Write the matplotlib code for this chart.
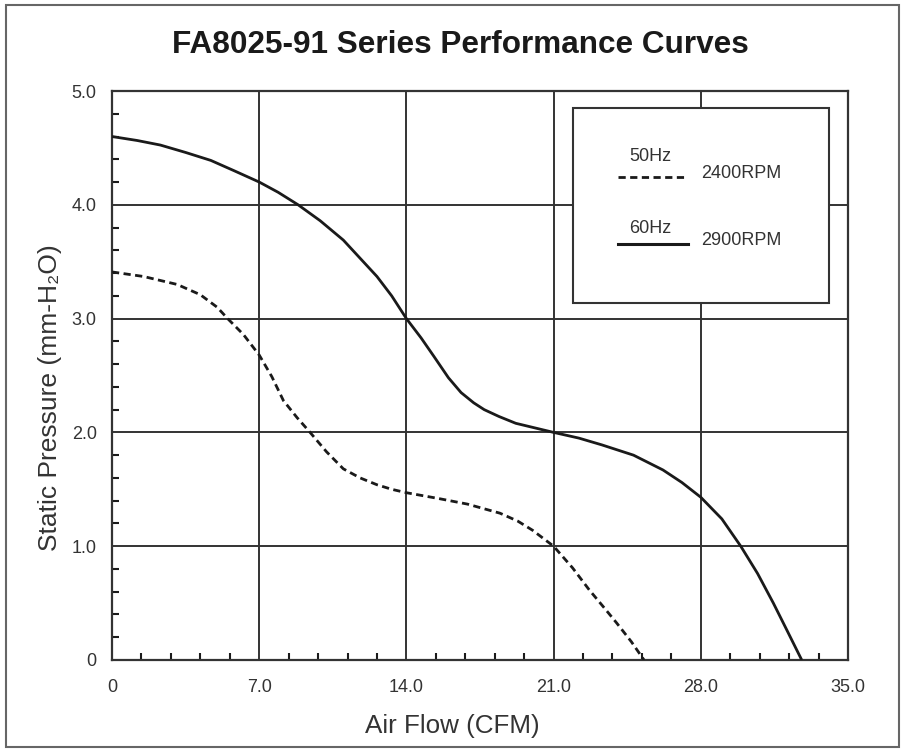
import matplotlib
matplotlib.use("Agg")
import matplotlib.pyplot as plt
from matplotlib.patches import Rectangle
from matplotlib.ticker import MultipleLocator

plt.rcParams['font.family'] = ['Liberation Sans', 'DejaVu Sans']

# ---- data ----
flow_60hz = [0, 1.2, 2.3, 3.5, 4.7, 5.8, 7.0, 7.9, 8.85, 9.9, 11.0, 12.6, 13.3, 14.0,
             14.7, 15.3, 16.0, 16.6, 17.2, 17.7, 18.4, 19.2, 20.1, 21.0, 22.2, 23.3, 24.8,
             26.2, 27.1, 28.0, 29.0, 29.9, 30.7, 31.45, 32.1, 32.8]
pres_60hz = [4.60, 4.565, 4.525, 4.46, 4.39, 4.30, 4.20, 4.11, 4.00, 3.86, 3.69, 3.37, 3.20, 3.00,
             2.83, 2.67, 2.48, 2.35, 2.26, 2.20, 2.14, 2.08, 2.04, 2.00, 1.95, 1.89, 1.80,
             1.67, 1.56, 1.43, 1.24, 1.00, 0.76, 0.50, 0.26, 0.0]

flow_50hz = [0, 1.5, 3.1, 4.2, 5.0, 5.5, 6.25, 7.0, 7.6, 8.15, 8.8, 9.42, 10.2, 11.0,
             11.8, 12.6, 13.3, 14.0, 15.5, 16.9, 18.45, 19.3, 20.0, 21.0, 21.9, 22.7,
             23.4, 24.0, 24.7, 25.3]
pres_50hz = [3.41, 3.37, 3.30, 3.21, 3.10, 3.00, 2.86, 2.68, 2.49, 2.28, 2.13, 2.00, 1.83, 1.68,
             1.60, 1.54, 1.50, 1.47, 1.42, 1.37, 1.29, 1.22, 1.14, 1.00, 0.81, 0.615,
             0.46, 0.325, 0.16, 0.0]

x_ticks = [0, 7.0, 14.0, 21.0, 28.0, 35.0]
x_tick_labels = ["0", "7.0", "14.0", "21.0", "28.0", "35.0"]
y_ticks = [0, 1.0, 2.0, 3.0, 4.0, 5.0]
y_tick_labels = ["0", "1.0", "2.0", "3.0", "4.0", "5.0"]

title = "FA8025-91 Series Performance Curves"
xlabel = "Air Flow (CFM)"
ylabel = "Static Pressure (mm-H\u2082O)"
legend_hz = ["50Hz", "60Hz"]
legend_rpm = ["2400RPM", "2900RPM"]

# ---- figure ----
fig = plt.figure(figsize=(9.04, 7.52), dpi=100)
ax = fig.add_axes([112/904, 1-660/752, 736/904, 569/752])

ink = '#1a1a1a'
grid_c = '#333333'
txt_c = '#333333'

ax.plot(flow_60hz, pres_60hz, color=ink, lw=2.0, solid_capstyle='butt',
        solid_joinstyle='round', zorder=3)
ax.plot(flow_50hz, pres_50hz, color=ink, lw=2.0, ls=(0, (2.6, 1.6)), zorder=3)

ax.set_xlim(0, 35)
ax.set_ylim(0, 5)
ax.set_xticks(x_ticks)
ax.set_xticklabels(x_tick_labels)
ax.set_yticks(y_ticks)
ax.set_yticklabels(y_tick_labels)
ax.xaxis.set_minor_locator(MultipleLocator(1.4))
ax.yaxis.set_minor_locator(MultipleLocator(0.2))
ax.tick_params(axis='both', which='major', length=0, labelsize=13, labelcolor=txt_c)
ax.tick_params(axis='x', which='major', pad=14)
ax.tick_params(axis='y', which='major', pad=11)
ax.tick_params(axis='both', which='minor', direction='in', length=5, width=1.5, color=ink)
ax.grid(True, which='major', color=grid_c, lw=1.4)
for s in ax.spines.values():
    s.set_color(grid_c)
    s.set_linewidth(1.6)

ax.set_xlabel(xlabel, fontsize=18.7, color=txt_c, labelpad=13)
ax.set_ylabel(ylabel, fontsize=19, color=txt_c, labelpad=7)
ax.xaxis.set_label_coords(0.462, -0.095)
ax.yaxis.label.set_position((0, 0.461))

fig.text(0.509, 0.940, title, fontsize=22.7, fontweight='bold', color=ink,
         ha='center', va='center')

# legend box
ax.add_patch(Rectangle((0.626, 0.627), 0.348, 0.3426, transform=ax.transAxes,
                       facecolor='white', edgecolor=grid_c, lw=1.5, zorder=4))
ax.plot([0.6875, 0.7826], [0.8494, 0.8494], transform=ax.transAxes, color=ink,
        lw=2.0, ls=(0, (2.6, 1.6)), zorder=5)
ax.plot([0.6875, 0.7826], [0.7311, 0.7311], transform=ax.transAxes, color=ink,
        lw=2.2, zorder=5)
ax.text(0.731, 0.8776, legend_hz[0], transform=ax.transAxes, fontsize=13, color=txt_c,
        ha='center', va='baseline', zorder=6)
ax.text(0.731, 0.7499, legend_hz[1], transform=ax.transAxes, fontsize=13, color=txt_c,
        ha='center', va='baseline', zorder=6)
ax.text(0.801, 0.847, legend_rpm[0], transform=ax.transAxes, fontsize=13, color=txt_c,
        ha='left', va='baseline', zorder=6)
ax.text(0.801, 0.7296, legend_rpm[1], transform=ax.transAxes, fontsize=13, color=txt_c,
        ha='left', va='baseline', zorder=6)

# outer frame
fig.patches.append(Rectangle((6/904, 1-747/752), 893/904, 742/752, transform=fig.transFigure,
                             facecolor='none', edgecolor='#666666', lw=1.5))

fig.savefig("out.png", dpi=100)
